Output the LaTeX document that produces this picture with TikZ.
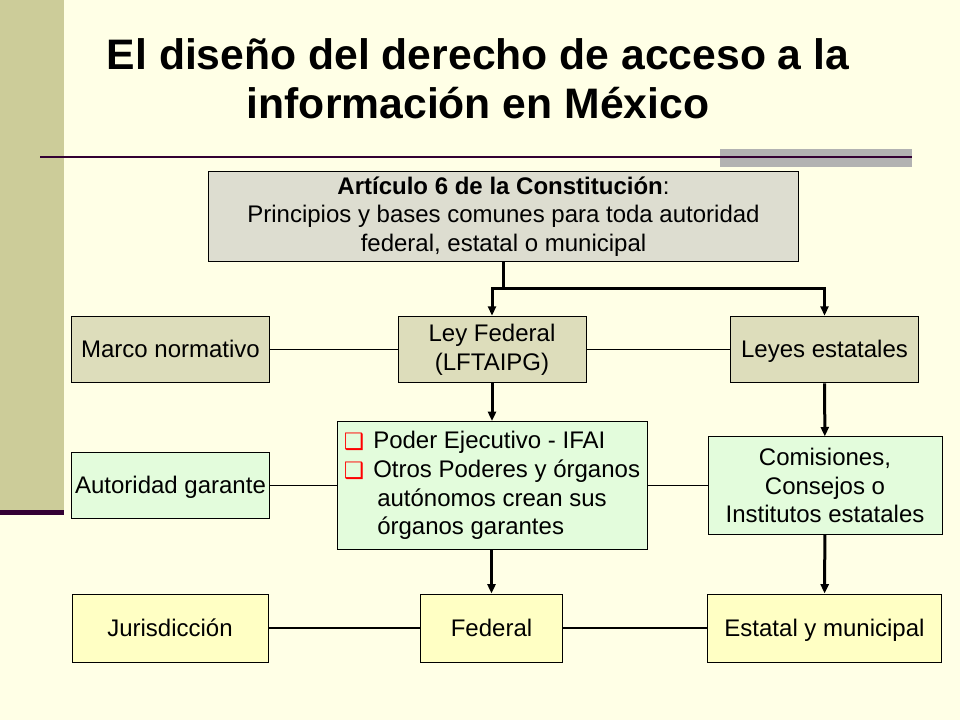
\documentclass[tikz,border=0pt]{standalone}
\usepackage{fontspec}
\setmainfont{Liberation Sans}
\newfontfamily\dejavu{DejaVu Sans}
\usetikzlibrary{arrows.meta}
\definecolor{fondo}{HTML}{FFFFE6}
\definecolor{barra}{HTML}{CCCC99}
\definecolor{morado}{HTML}{330033}
\definecolor{gris}{HTML}{B2B2B2}
\definecolor{cajagris}{HTML}{DDDDD0}
\definecolor{cajatan}{HTML}{DDDDBB}
\definecolor{cajaverde}{HTML}{E3FCDC}
\definecolor{cajaamarilla}{HTML}{FFFFC4}
\def\qbul{\raisebox{-0.5pt}{\dejavu\fontsize{17}{17}\selectfont\textcolor{red}{❑}}}

\begin{document}
\begin{tikzpicture}[x=0.75pt,y=-0.75pt,
  caja/.style={draw=black,line width=0.75pt,inner sep=0pt,align=center,
    font=\fontsize{18}{21.5}\selectfont},
  una/.style={text height=16pt,text depth=4pt},
  flecha/.style={line width=2.25pt,-{Triangle[length=7pt,width=6pt]}},
  grueso/.style={line width=2.25pt},
  fino/.style={line width=1pt}]
  % fondo de la diapositiva
  \fill[fondo] (0,0) rectangle (960,720);
  \useasboundingbox (0,0) rectangle (960,720);
  \fill[barra] (0,0) rectangle (64,510);
  \fill[morado] (0,510) rectangle (64,515);
  \fill[gris] (720,149) rectangle (912,167);
  \draw[morado,line width=1.6pt] (40,157) -- (912,157);
  \node[align=center,font=\fontsize{32}{37}\selectfont\bfseries] (titulo) at (478,79)
    {El diseño del derecho de acceso a la\\información en México};
  % cajas
  \node[caja,fill=cajagris,minimum width=443pt,minimum height=68pt] (art) at (503.5,216.5)
    {\textbf{Artículo 6 de la Constitución}:\\Principios y bases comunes para toda autoridad\\federal, estatal o municipal};
  \node[caja,una,fill=cajatan,minimum width=148pt,minimum height=50pt] (marco) at (170.5,349.5) {Marco normativo};
  \node[caja,fill=cajatan,minimum width=141pt,minimum height=50pt] (leyfed) at (492,349.5) {Ley Federal\\(LFTAIPG)};
  \node[caja,una,fill=cajatan,minimum width=141pt,minimum height=50pt] (leyest) at (824.5,349.5) {Leyes estatales};
  \node[caja,una,fill=cajaverde,minimum width=148pt,minimum height=50pt] (autor) at (170.5,485.5) {Autoridad garante};
  \node[caja,fill=cajaverde,minimum width=232.5pt,minimum height=96pt,align=left] (organos) at (492,485.5)
    {\makebox[22pt][l]{\qbul}Poder Ejecutivo - IFAI\\
     \makebox[22pt][l]{\qbul}Otros Poderes y órganos\\
     \hspace*{25pt}autónomos crean sus\\
     \hspace*{25pt}órganos garantes};
  \node[caja,fill=cajaverde,minimum width=175.5pt,minimum height=73pt] (comis) at (825,485.5)
    {Comisiones,\\Consejos o\\Institutos estatales};
  \node[caja,una,fill=cajaamarilla,minimum width=147pt,minimum height=51pt] (juris) at (170,628) {Jurisdicción};
  \node[caja,una,fill=cajaamarilla,minimum width=107pt,minimum height=51pt] (fed) at (491.5,628) {Federal};
  \node[caja,una,fill=cajaamarilla,minimum width=176pt,minimum height=51pt] (estatal) at (824.5,628) {Estatal y municipal};
  % conectores
  \coordinate (rama) at (503.5,289);
  \draw[grueso] (art.south) -- (rama);
  \draw[flecha] (rama) -| (leyfed);
  \draw[flecha] (rama) -| (leyest);
  \draw[flecha] (leyfed) -- (organos);
  \draw[flecha] (leyest) -- (comis);
  \draw[flecha] (organos.south -| fed) -- (fed);
  \draw[flecha] (comis) -- (estatal);
  \draw[fino] (marco) -- (leyfed);
  \draw[fino] (leyfed) -- (leyest);
  \draw[fino] (autor) -- (autor -| organos.west);
  \draw[fino] (organos.east) -- (organos.east -| comis.west);
  \draw[fino] (juris) -- (fed);
  \draw[fino] (fed) -- (estatal);
\end{tikzpicture}
\end{document}
